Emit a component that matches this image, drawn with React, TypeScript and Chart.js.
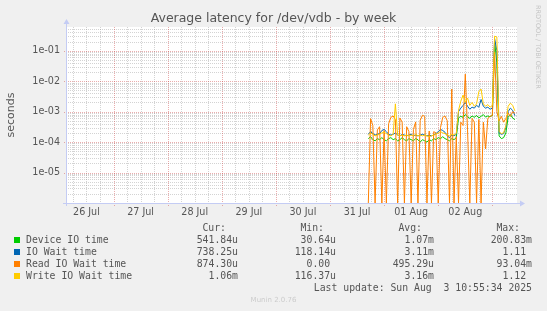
import React, { useEffect, useRef } from 'react';
import { Chart, registerables } from 'chart.js';

Chart.register(...registerables);

const TITLE = 'Average latency for /dev/vdb - by week';
const Y_AXIS_TITLE = 'seconds';
const SIDE_TEXT = 'RRDTOOL / TOBI OETIKER';
const FOOTER = 'Munin 2.0.76';
const LAST_UPDATE = 'Last update: Sun Aug  3 10:55:34 2025';

// x values are hours relative to Sun 3 Aug 2025 00:00
const X_MIN_HOUR = -189.07;
const X_MAX_HOUR = 10.93;
const X_TICK_LABELS = ['26 Jul', '27 Jul', '28 Jul', '29 Jul', '30 Jul', '31 Jul', '01 Aug', '02 Aug'];
const X_TICK_HOURS = [-180, -156, -132, -108, -84, -60, -36, -12];

const Y_MIN = 1e-6;
const Y_MAX = 0.6;
const Y_TICK_VALUES = [1e-5, 1e-4, 1e-3, 1e-2, 1e-1];
const Y_TICK_LABELS = ['1e-05', '1e-04', '1e-03', '1e-02', '1e-01'];

// samples: one per hour starting at hour -55 (31 Jul 17:00)
const SAMPLE_START_HOUR = -55;
const SAMPLE_STEP_HOURS = 1;

const DEVICE_IO = [
  1.3e-4, 1.5e-4, 1.2e-4, 1.1e-4, 1.3e-4, 1.2e-4, 1.4e-4, 1.2e-4, 1.1e-4, 1.3e-4,
  1.4e-4, 1.2e-4, 1.3e-4, 1.1e-4, 1.2e-4, 1.4e-4, 1.2e-4, 1.1e-4, 1.3e-4, 1.2e-4,
  1.1e-4, 1.3e-4, 1.2e-4, 1.0e-4, 1.2e-4, 1.1e-4, 1.0e-4, 1.2e-4, 1.1e-4, 1.3e-4,
  1.2e-4, 1.4e-4, 1.3e-4, 1.5e-4, 1.3e-4, 1.2e-4, 1.1e-4, 1.3e-4, 1.2e-4, 1.4e-4,
  6.2e-4, 7.0e-4, 6.5e-4, 8.0e-4, 6.8e-4, 6.0e-4, 7.2e-4, 6.5e-4, 7.5e-4, 6.2e-4,
  7.0e-4, 8.0e-4, 6.6e-4, 7.2e-4, 6.8e-4, 7.5e-4, 0.2, 0.04, 1.6e-4, 1.3e-4,
  1.4e-4, 2.0e-4, 6.5e-4, 8.0e-4, 6.2e-4, 5.418e-4,
];

const IO_WAIT = [
  1.8e-4, 2.2e-4, 1.9e-4, 1.7e-4, 1.8e-4, 1.9e-4, 2.4e-4, 2.6e-4, 2.2e-4, 1.8e-4,
  1.7e-4, 1.8e-4, 2.0e-4, 1.7e-4, 1.6e-4, 1.8e-4, 1.7e-4, 1.6e-4, 1.7e-4, 1.8e-4,
  1.6e-4, 1.7e-4, 1.6e-4, 1.7e-4, 1.8e-4, 1.7e-4, 1.6e-4, 1.7e-4, 1.6e-4, 1.7e-4,
  1.9e-4, 2.2e-4, 2.6e-4, 2.4e-4, 2.1e-4, 1.6e-4, 1.4e-4, 1.7e-4, 1.6e-4, 1.8e-4,
  1.0e-3, 1.3e-3, 1.6e-3, 2.0e-3, 1.5e-3, 1.2e-3, 1.4e-3, 1.3e-3, 1.6e-3, 1.4e-3,
  2.5e-3, 1.5e-3, 1.3e-3, 1.4e-3, 1.2e-3, 1.3e-3, 0.25, 0.1, 2.0e-4, 1.8e-4,
  1.9e-4, 3.0e-4, 1.0e-3, 1.3e-3, 1.1e-3, 7.3825e-4,
];

const READ_IO_WAIT = [
  0, 5.9e-4, 3.5e-4, 0, 2.5e-4, 3.2e-4, 0, 2.4e-4, 0, 4.0e-4,
  6.5e-4, 7.2e-4, 5.5e-4, 0, 6.2e-4, 4.5e-4, 0, 3.2e-4, 2.2e-4, 0,
  2.6e-4, 4.6e-4, 0, 5.2e-4, 7.6e-4, 7.0e-4, 0, 2.3e-4, 0, 2.2e-4,
  2.0e-4, 0, 3.0e-4, 6.5e-4, 7.2e-4, 5.0e-4, 0, 5.5e-3, 0, 1.5e-4,
  0, 4.5e-4, 3.5e-4, 1.7e-2, 2.5e-4, 0, 6.0e-4, 4.5e-4, 0, 5.5e-4,
  0, 4.5e-4, 6.0e-5, 6.0e-4, 7.0e-4, 7.5e-4, 9.0e-2, 1.0e-3, 5.0e-4, 7.0e-4,
  4.5e-4, 6.0e-4, 9.0e-4, 7.0e-4, 1.0e-3, 8.743e-4,
];

const WRITE_IO_WAIT = [
  1.7e-4, 2.0e-4, 1.8e-4, 1.6e-4, 1.7e-4, 1.8e-4, 2.0e-4, 2.1e-4, 1.9e-4, 1.7e-4,
  1.6e-4, 1.8e-4, 1.8e-3, 1.7e-4, 1.6e-4, 1.7e-4, 1.6e-4, 1.7e-4, 1.6e-4, 1.7e-4,
  1.6e-4, 1.8e-4, 1.6e-4, 1.7e-4, 1.6e-4, 1.7e-4, 1.6e-4, 1.5e-4, 1.6e-4, 1.7e-4,
  1.8e-4, 2.0e-4, 2.2e-4, 2.0e-4, 1.9e-4, 1.7e-4, 1.6e-4, 1.8e-4, 1.7e-4, 1.9e-4,
  1.1e-3, 2.2e-3, 3.5e-3, 2.0e-3, 2.8e-3, 1.6e-3, 2.0e-3, 1.5e-3, 1.8e-3, 4.5e-3,
  5.5e-3, 1.8e-3, 1.5e-3, 1.7e-3, 1.4e-3, 1.6e-3, 0.3, 0.28, 2.2e-4, 1.9e-4,
  2.0e-4, 3.5e-4, 1.5e-3, 1.9e-3, 1.6e-3, 1.06e-3,
];

const SERIES_NAMES = ['Device IO time', 'IO Wait time', 'Read IO Wait time', 'Write IO Wait time'];
const SERIES_COLORS = ['#00CC00', '#0066B3', '#FF8000', '#FFCC00'];
const SERIES_VALUES = [DEVICE_IO, IO_WAIT, READ_IO_WAIT, WRITE_IO_WAIT];
const LEGEND_HEADERS = ['Cur:', 'Min:', 'Avg:', 'Max:'];
const CUR_TEXT = ['541.84u', '738.25u', '874.30u', '1.06m'];
const MIN_TEXT = ['30.64u', '118.14u', '0.00 ', '116.37u'];
const AVG_TEXT = ['1.07m', '3.11m', '495.29u', '3.16m'];
const MAX_TEXT = ['200.83m', '1.11 ', '93.04m', '1.12 '];

const BG = '#F0F0F0';
const FONT_COLOR = '#555555';
const MINOR_GRID = 'rgba(150,150,150,0.42)';
const MAJOR_GRID = 'rgba(205,60,60,0.42)';
const AXIS_COLOR = '#C4CCF4';

function hline(ctx: CanvasRenderingContext2D, x1: number, x2: number, y: number) {
  ctx.beginPath();
  ctx.moveTo(x1, y);
  ctx.lineTo(x2, y);
  ctx.stroke();
}
function vline(ctx: CanvasRenderingContext2D, x: number, y1: number, y2: number) {
  ctx.beginPath();
  ctx.moveTo(x, y1);
  ctx.lineTo(x, y2);
  ctx.stroke();
}

const rrdPlugin = {
  id: 'rrdDecor',
  beforeDraw(chart: any) {
    const ctx: CanvasRenderingContext2D = chart.ctx;
    ctx.save();
    ctx.fillStyle = BG;
    ctx.fillRect(0, 0, chart.width, chart.height);
    ctx.restore();
  },
  beforeDatasetsDraw(chart: any) {
    const ctx: CanvasRenderingContext2D = chart.ctx;
    const a = chart.chartArea;
    const xs = chart.scales.x;
    const ys = chart.scales.y;
    ctx.save();
    ctx.fillStyle = '#FFFFFF';
    ctx.fillRect(a.left, a.top, a.right - a.left, a.bottom - a.top);
    ctx.lineWidth = 1;
    ctx.setLineDash([1, 1]);
    // minor grid
    ctx.strokeStyle = MINOR_GRID;
    for (let e = -6; e <= 0; e++) {
      for (let m = 2; m <= 9; m++) {
        const v = m * Math.pow(10, e);
        if (v <= Y_MIN || v >= Y_MAX) continue;
        const py = Math.round(ys.getPixelForValue(v)) + 0.5;
        hline(ctx, a.left, a.right, py);
      }
    }
    for (let h = Math.ceil(X_MIN_HOUR / 6) * 6; h <= X_MAX_HOUR; h += 6) {
      if (h % 24 === 0) continue;
      const px = Math.round(xs.getPixelForValue(h)) + 0.5;
      vline(ctx, px, a.top, a.bottom);
    }
    // major grid
    ctx.strokeStyle = MAJOR_GRID;
    Y_TICK_VALUES.forEach((v) => {
      const py = Math.round(ys.getPixelForValue(v)) + 0.5;
      hline(ctx, a.left - 2, a.right, py);
    });
    for (let h = Math.ceil(X_MIN_HOUR / 24) * 24; h <= X_MAX_HOUR; h += 24) {
      const px = Math.round(xs.getPixelForValue(h)) + 0.5;
      vline(ctx, px, a.top, a.bottom + 3);
    }
    ctx.setLineDash([]);
    // axes
    ctx.strokeStyle = AXIS_COLOR;
    ctx.fillStyle = AXIS_COLOR;
    const ax = Math.round(a.left) + 0.5;
    const ay = Math.round(a.bottom) + 0.5;
    vline(ctx, ax, a.bottom + 3, a.top - 3);
    hline(ctx, a.left - 3, a.right + 3, ay);
    ctx.beginPath();
    ctx.moveTo(ax - 3, a.top - 3);
    ctx.lineTo(ax + 3, a.top - 3);
    ctx.lineTo(ax, a.top - 8);
    ctx.closePath();
    ctx.fill();
    ctx.beginPath();
    ctx.moveTo(a.right + 3, ay - 3);
    ctx.lineTo(a.right + 3, ay + 3);
    ctx.lineTo(a.right + 8, ay);
    ctx.closePath();
    ctx.fill();
    ctx.restore();
  },
  afterDraw(chart: any) {
    const ctx: CanvasRenderingContext2D = chart.ctx;
    const a = chart.chartArea;
    const xs = chart.scales.x;
    const ys = chart.scales.y;
    const cx = chart.width / 2;
    ctx.save();
    ctx.fillStyle = FONT_COLOR;
    // title
    ctx.font = '12.5px "DejaVu Sans"';
    ctx.textAlign = 'center';
    ctx.textBaseline = 'middle';
    ctx.fillText(TITLE, cx, 19);
    // y tick labels
    ctx.font = '9.6px "DejaVu Sans"';
    ctx.textAlign = 'right';
    Y_TICK_VALUES.forEach((v, i) => {
      ctx.fillText(Y_TICK_LABELS[i], a.left - 6, ys.getPixelForValue(v));
    });
    // x tick labels
    ctx.textAlign = 'center';
    X_TICK_HOURS.forEach((h, i) => {
      ctx.fillText(X_TICK_LABELS[i], xs.getPixelForValue(h), a.bottom + 9);
    });
    // y axis title
    ctx.save();
    ctx.font = '11px "DejaVu Sans"';
    ctx.translate(11, (a.top + a.bottom) / 2);
    ctx.rotate(-Math.PI / 2);
    ctx.fillText(Y_AXIS_TITLE, 0, 0);
    ctx.restore();
    // side text
    ctx.save();
    ctx.fillStyle = '#C4C4C4';
    ctx.font = '6.5px "DejaVu Sans"';
    ctx.textAlign = 'left';
    ctx.translate(537.5, 5);
    ctx.rotate(Math.PI / 2);
    ctx.fillText(SIDE_TEXT, 0, 0);
    ctx.restore();
    // legend
    ctx.font = '9.8px "DejaVu Sans Mono"';
    const colRight = [238, 336, 434, 532];
    const headerY = 228;
    const rowY = [240, 252, 264, 276];
    ctx.textAlign = 'right';
    LEGEND_HEADERS.forEach((t, i) => ctx.fillText(t, colRight[i] - 12, headerY));
    SERIES_NAMES.forEach((name, i) => {
      const y = rowY[i];
      ctx.fillStyle = SERIES_COLORS[i];
      ctx.fillRect(14, y - 3, 6, 6);
      ctx.fillStyle = FONT_COLOR;
      ctx.textAlign = 'left';
      ctx.fillText(name, 26, y);
      ctx.textAlign = 'right';
      ctx.fillText(CUR_TEXT[i], colRight[0], y);
      ctx.fillText(MIN_TEXT[i], colRight[1], y);
      ctx.fillText(AVG_TEXT[i], colRight[2], y);
      ctx.fillText(MAX_TEXT[i], colRight[3], y);
    });
    ctx.fillText(LAST_UPDATE, 532, 288);
    ctx.fillStyle = '#CCCCCC';
    ctx.font = '7px "DejaVu Sans"';
    ctx.textAlign = 'center';
    ctx.fillText(FOOTER, cx, 300);
    ctx.restore();
  },
};

export default function App() {
  const ref = useRef<HTMLCanvasElement | null>(null);
  useEffect(() => {
    const canvas = ref.current;
    if (!canvas) return;
    const datasets = SERIES_VALUES.map((vals, s) => ({
      label: SERIES_NAMES[s],
      data: vals.map((v, i) => ({ x: SAMPLE_START_HOUR + i * SAMPLE_STEP_HOURS, y: v > 0 ? v : Y_MIN })),
      borderColor: SERIES_COLORS[s],
      backgroundColor: SERIES_COLORS[s],
      borderWidth: 1,
      pointRadius: 0,
      tension: 0,
      fill: false,
      order: 3 - s,
    }));
    const chart = new Chart(canvas, {
      type: 'line',
      data: { datasets },
      options: {
        animation: false,
        responsive: false,
        devicePixelRatio: 1,
        events: [],
        layout: { padding: { left: 66, right: 30, top: 27, bottom: 108 } },
        plugins: {
          legend: { display: false },
          title: { display: false },
          tooltip: { enabled: false },
        },
        scales: {
          x: { type: 'linear', min: X_MIN_HOUR, max: X_MAX_HOUR, display: false },
          y: { type: 'logarithmic', min: Y_MIN, max: Y_MAX, display: false },
        },
      },
      plugins: [rrdPlugin],
    } as any);
    return () => chart.destroy();
  }, []);
  return (
    <div style={{ position: 'fixed', left: 0, top: 0, width: 547, height: 311, background: BG }}>
      <canvas ref={ref} width={547} height={311} style={{ display: 'block', width: 547, height: 311 }} />
    </div>
  );
}
